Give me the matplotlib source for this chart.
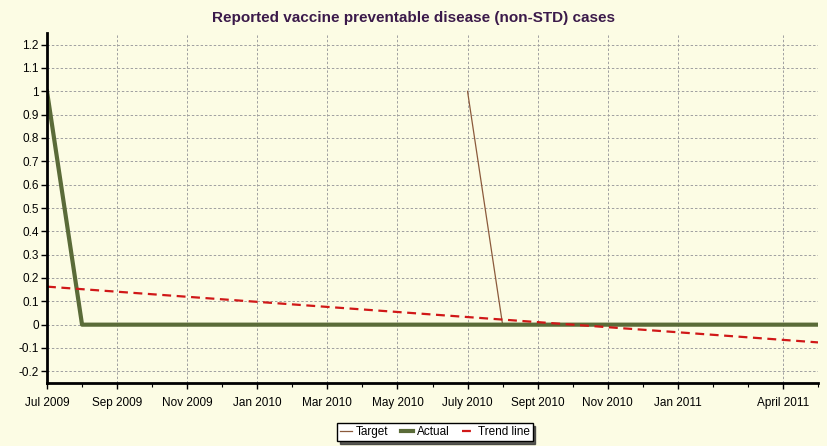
import numpy as np
import matplotlib.pyplot as plt
from matplotlib.ticker import MultipleLocator

plt.rcParams['font.family'] = ['Liberation Sans', 'DejaVu Sans']

# monthly categories Jul 2009 .. May 2011
months = ['Jul 2009', 'Aug 2009', 'Sep 2009', 'Oct 2009', 'Nov 2009', 'Dec 2009',
          'Jan 2010', 'Feb 2010', 'Mar 2010', 'Apr 2010', 'May 2010', 'Jun 2010',
          'July 2010', 'Aug 2010', 'Sept 2010', 'Oct 2010', 'Nov 2010', 'Dec 2010',
          'Jan 2011', 'Feb 2011', 'Mar 2011', 'April 2011', 'May 2011']
actual = [1, 0, 0, 0, 0, 0, 0, 0, 0, 0, 0, 0, 0, 0, 0, 0, 0, 0, 0, 0, 0, 0, 0]
target_months = ['July 2010', 'Aug 2010']
target = [1, 0]
trend_months = ['Jul 2009', 'May 2011']
trend = [0.163, -0.076]
shown_labels = ['Jul 2009', 'Sep 2009', 'Nov 2009', 'Jan 2010', 'Mar 2010', 'May 2010',
                'July 2010', 'Sept 2010', 'Nov 2010', 'Jan 2011', 'April 2011']
yticks = [-0.2, -0.1, 0, 0.1, 0.2, 0.3, 0.4, 0.5, 0.6, 0.7, 0.8, 0.9, 1, 1.1, 1.2]

idx = {m: i for i, m in enumerate(months)}

fig = plt.figure(figsize=(8.27, 4.46), dpi=100)
fig.patch.set_facecolor('#fcfce4')
ax = fig.add_axes([47/827, 63/446, (818-47)/827, (383-33)/446])
ax.set_facecolor('none')

ax.plot([idx[m] for m in target_months], target, color='#8b5a3c', lw=0.9, label='Target')
ax.plot(range(len(months)), actual, color='#5a6b38', lw=3, label='Actual')
ax.plot([idx[m] for m in trend_months], trend, color='#d01818', lw=1.6,
        ls=(0, (4, 2.5)), label='Trend line')

ax.set_xlim(0, len(months) - 1)
ax.set_ylim(-0.25, 1.25)
ax.set_yticks(yticks)
ax.set_yticklabels(['%g' % v for v in yticks])
ax.set_xticks([idx[m] for m in shown_labels])
ax.set_xticklabels(shown_labels)
ax.xaxis.set_minor_locator(MultipleLocator(1))

ax.grid(True, which='major', color='#a0a0a0', ls=(0, (2.5, 2)), lw=0.7)
for s in ['top', 'right']:
    ax.spines[s].set_visible(False)
for s in ['left', 'bottom']:
    ax.spines[s].set_linewidth(2)
ax.tick_params(axis='both', labelsize=8.5, colors='black', length=4, width=1)
ax.tick_params(axis='x', which='minor', length=3, width=0.8)
ax.tick_params(axis='x', pad=6)
ax.tick_params(axis='y', pad=2)

fig.text(0.5, 1 - 18/446, 'Reported vaccine preventable disease (non-STD) cases',
         ha='center', va='center', fontsize=11, fontweight='bold', color='#3b1a4a')

leg = fig.legend(loc='center', bbox_to_anchor=(435/827, 1 - 432/446), ncol=3,
                 fontsize=8.5, frameon=True, fancybox=False,
                 shadow={'ox': 2, 'oy': -2, 'color': '#333333', 'alpha': 0.8},
                 handlelength=1.0, handletextpad=0.3, columnspacing=1.1,
                 borderpad=0.25, borderaxespad=0)
leg.get_frame().set_edgecolor('black')
leg.get_frame().set_facecolor('white')
leg.get_frame().set_linewidth(1)

fig.savefig('out.png', dpi=100, facecolor=fig.get_facecolor())
